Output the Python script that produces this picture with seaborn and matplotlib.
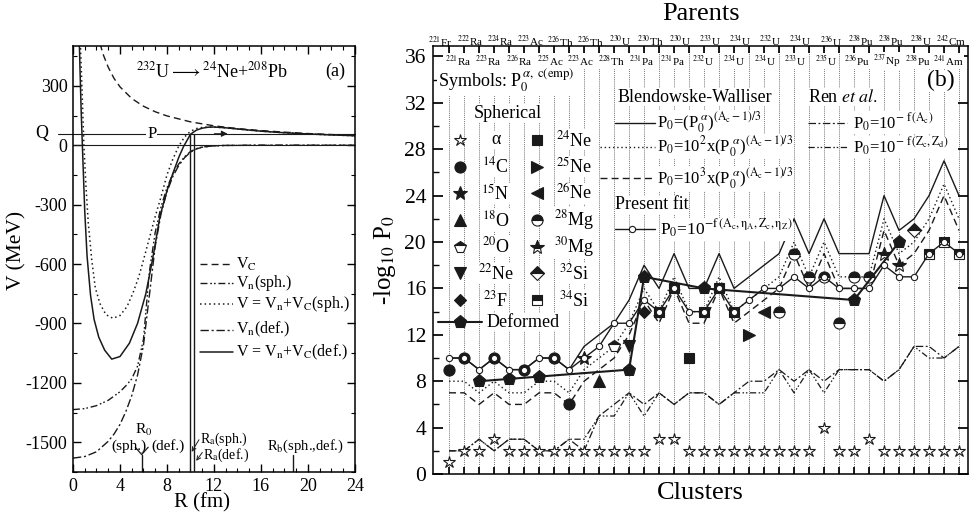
import re
import numpy as np
import matplotlib
matplotlib.use('Agg')
import matplotlib.pyplot as plt
import seaborn as sns

# ════════════════════════════════════════════════════════════════════
#  DATA
# ════════════════════════════════════════════════════════════════════

# ─── panel (a): potentials for 232U -> 24Ne + 208Pb ─────────────────
Q_VALUE = 58.0
R_VC = [2.3, 2.6, 3.0, 3.5, 4.0, 5.0, 6.0, 7.0, 8.0, 10.0, 12.0, 14.0, 16.0, 18.0, 20.0, 22.0, 24.0]
V_VC = [513, 454, 394, 337, 295, 236, 197, 169, 148, 118, 98, 84, 74, 66, 59, 54, 49]

R_VN_SPH = [0, 1, 2, 3, 4, 4.5, 5, 5.5, 6, 6.5, 7, 7.5, 8, 8.5, 9, 9.5, 10, 10.5, 11, 12, 13, 16, 24]
V_VN_SPH = [-1335, -1330, -1315, -1288, -1245, -1215, -1180, -1115, -980, -640, -440, -310,
            -215, -145, -95, -58, -32, -17, -9, -3, -1, 0, 0]

R_V_SPH = [0.6, 0.7, 0.8, 0.93, 1.1, 1.3, 1.6, 1.9, 2.3, 2.8, 3.4, 4.0, 4.6, 5.1, 5.6, 6.0, 6.5,
           7.0, 7.5, 8.0, 8.5, 9.0, 9.5, 10.0, 10.5, 11.0, 11.5, 12.0, 13, 14, 16, 18, 20, 22, 24]
V_V_SPH = [560, 400, 230, 0, -200, -390, -580, -720, -800, -855, -874, -860, -815, -747, -665,
           -580, -470, -360, -260, -150, -70, -5, 42, 70, 84, 90, 92, 92, 88, 82, 71, 63, 57, 52, 48]

R_VN_DEF = [0, 1, 2, 3, 3.5, 4, 4.5, 5, 5.5, 6, 6.5, 7, 7.5, 8, 8.5, 9, 9.5, 10, 10.5, 11, 12, 13, 16, 24]
V_VN_DEF = [-1580, -1572, -1548, -1495, -1458, -1410, -1345, -1265, -1160, -1010, -760, -510,
            -345, -235, -158, -103, -63, -35, -19, -10, -3, -1, 0, 0]

R_V_DEF = [0.5, 0.6, 0.7, 0.8, 1.0, 1.2, 1.5, 1.8, 2.2, 2.7, 3.3, 4.0, 4.8, 5.5, 6.2, 6.7, 7.0,
           7.4, 8.0, 8.5, 9.0, 9.4, 10.0, 10.5, 11.0, 11.5, 12.0, 13, 14, 16, 18, 20, 22, 24]
V_V_DEF = [620, 380, 170, 0, -330, -560, -760, -880, -970, -1035, -1080, -1067, -1000, -899,
           -750, -600, -500, -360, -230, -143, -62, -8, 55, 76, 86, 91, 92, 88, 82, 71, 63, 57, 52, 48]

R0_MARK = 5.85
RA_SPH, RA_DEF = 9.93, 10.3
RB_MARK = 18.7

# ─── panel (b): -log10 P0 for each decay ────────────────────────────
PARENTS_TOP = ['221Fr', '222Ra', '224Ra', '223Ac', '226Th', '226Th', '230U', '230Th', '230U',
               '233U', '234U', '232U', '234U', '236U', '238Pu', '238Pu', '238U', '242Cm']
PARENTS_LOW = ['221Ra', '223Ra', '226Ra', '225Ac', '223Ac', '228Th', '231Pa', '231Pa', '232U',
               '234U', '234U', '233U', '235U', '236Pu', '237Np', '238Pu', '241Am']

BW_SOLID  = [10, 10, 9, 10, 9, 9, 10, 10, 9, 11, 12, 13, 15, 18, 16, 19, 16, 16, 19, 16, 17, 18,
             19, 22, 19, 22, 19, 19, 19, 24, 21, 22, 24, 27, 24]
BW_DOTTED = [8, 8, 7, 8, 7, 7, 8, 8, 7, 9, 10, 11, 13, 16, 14, 17, 14, 14, 17, 14, 15, 16,
             17, 20, 17, 20, 17, 17, 17, 22, 19, 20, 22, 25, 22]
BW_DASHED = [7, 7, 6, 7, 6, 6, 7, 7, 6, 8, 9, 10, 12, 15, 13, 16, 13, 13, 16, 13, 14, 15,
             16, 19, 16, 19, 16, 16, 16, 21, 18, 19, 21, 24, 21]
REN_AC    = [2, 2, 3, 2, 3, 3, 2, 2, 3, 2, 5, 6, 7, 6, 7, 6, 7, 7, 6, 7, 8, 8,
             9, 8, 9, 8, 9, 9, 9, 8, 9, 11, 11, 10, 11]
REN_ZCZD  = [2, 2, 3, 2, 3, 3, 2, 2, 3, 3, 5, 5, 7, 5, 7, 6, 7, 7, 6, 7, 7, 7,
             9, 7, 9, 7, 9, 9, 9, 8, 9, 11, 10, 10, 11]
PRESENT   = [10, 10, 9, 10, 9, 9, 10, 10, 9, 10, 11, 13, 13, 15, 14, 16, 14, 14, 16, 14, 15, 16,
             16, 17, 16, 17, 16, 16, 16, 18, 17, 17, 19, 20, 19]
ALPHA_EMP = [1, 2, 2, 3, 2, 2, 2, 2, 2, 2, 2, 2, 2, 2, 3, 3, 2, 2, 2, 2, 2, 2,
             2, 2, 2, 4, 2, 2, 3, 2, 2, 2, 2, 2, 2]

EXP_POS = [0, 1, 3, 5, 7, 8, 9, 10, 11, 12, 13, 14, 15, 16, 17, 18, 19, 20, 21,
           22, 23, 24, 25, 26, 27, 28, 29, 30, 31, 32, 33, 34]
EXP_VAL = [9, 10, 10, 9, 10, 6, 10, 8, 11, 11, 14, 14, 16, 10, 14, 16, 14, 12, 14,
           14, 19, 17, 17, 13, 17, 17, 19, 18, 21, 19, 20, 19]
EXP_CLUSTER = (['14C'] * 6 + ['15N', '18O', '20O', '22Ne', '23F'] + ['24Ne'] * 6 +
               ['25Ne', '26Ne'] + ['28Mg'] * 7 + ['30Mg', '30Mg', '32Si', '34Si', '34Si', '34Si'])

DEF_POS = [2, 4, 6, 12, 13, 17, 27, 30]
DEF_VAL = [8, 8.2, 8.4, 9, 17, 16, 15, 20]

N_DECAY = len(BW_SOLID)

# ════════════════════════════════════════════════════════════════════
#  STYLE
# ════════════════════════════════════════════════════════════════════
sns.set_theme(style='ticks')
plt.rcParams.update({
    'font.family': ['Liberation Serif', 'DejaVu Serif'],
    'mathtext.fontset': 'stix',
    'axes.unicode_minus': False,
    'axes.edgecolor': 'black',
    'axes.linewidth': 1.1,
    'axes.labelcolor': 'black',
    'text.color': 'black',
    'xtick.color': 'black',
    'ytick.color': 'black',
    'xtick.direction': 'in',
    'ytick.direction': 'in',
})

DOT = (0, (1, 2))
DASH = (0, (5, 3))
DASHDOT = (0, (6, 2, 1.5, 2))
DASHDOTDOT = (0, (5, 2, 1.2, 1.5, 1.2, 2))


def line(ax, x, y, ls='-', lw=1.0, z=2, **kw):
    sns.lineplot(x=x, y=y, ax=ax, color='k', linestyle=ls, linewidth=lw,
                 estimator=None, sort=False, zorder=z, **kw)


def mk(marker, ms, fill='full', fc='k'):
    return dict(marker=marker, markersize=ms, fillstyle=fill, markerfacecolor=fc,
                markerfacecoloralt='white', markeredgecolor='k', markeredgewidth=0.8)


MARK = {
    'alpha': mk('*', 9, fc='white'),
    '14C':   mk('o', 8),
    '15N':   mk('*', 10),
    '18O':   mk('^', 8),
    '20O':   mk('p', 8.5, fill='top'),
    '22Ne':  mk('v', 8),
    '23F':   mk('D', 6.5),
    '24Ne':  mk('s', 7),
    '25Ne':  mk('>', 8),
    '26Ne':  mk('<', 8),
    '28Mg':  mk('o', 8, fill='top'),
    '30Mg':  mk('*', 10, fill='top'),
    '32Si':  mk('D', 7, fill='top'),
    '34Si':  mk('s', 7, fill='top'),
    'def':   mk('p', 9.5),
}

fig = plt.figure(figsize=(9.69, 5.18), dpi=100)
ax1 = fig.add_axes([0.0753, 0.0888, 0.291, 0.822])
ax2 = fig.add_axes([0.4469, 0.0849, 0.5521, 0.8263])

# ─── panel (a) ───────────────────────────────────────────────────────
line(ax1, R_VC, V_VC, DASH, 1.0)
line(ax1, R_VN_SPH, V_VN_SPH, DASHDOTDOT, 1.0)
line(ax1, R_V_SPH, V_V_SPH, DOT, 1.1)
line(ax1, R_VN_DEF, V_VN_DEF, DASHDOT, 1.0)
line(ax1, R_V_DEF, V_V_DEF, '-', 1.1)

ax1.set_xlim(0, 24)
ax1.set_ylim(-1650, 500)
ax1.axhline(0, color='k', lw=0.8, zorder=1)
ax1.plot([-0.053, 1], [Q_VALUE, Q_VALUE], color='k', lw=0.8,
         transform=ax1.get_yaxis_transform(), clip_on=False, zorder=1)
ax1.annotate('', xy=(13.4, Q_VALUE), xytext=(11.8, Q_VALUE),
             arrowprops=dict(arrowstyle='-|>', color='k', lw=0.8, mutation_scale=9))
ax1.text(6.7, Q_VALUE, 'P', ha='center', va='center', fontsize=12,
         bbox=dict(fc='white', ec='none', pad=0.5), zorder=3)
ax1.text(-0.11, Q_VALUE, 'Q', transform=ax1.get_yaxis_transform(), ha='center',
         va='center', fontsize=13)

ax1.vlines([RA_SPH, RA_DEF], -1650, Q_VALUE, color='k', lw=1.0, zorder=3)
ax1.plot([R0_MARK, R0_MARK], [-1650, -1562], color='k', lw=1.0)
ax1.plot([R0_MARK - 0.55, R0_MARK, R0_MARK + 0.55], [-1525, -1562, -1525], color='k', lw=0.9)
ax1.plot([RB_MARK, RB_MARK], [-1650, -1562], color='k', lw=1.0)

ax1.text(11.8, 372, r'$^{232}$U$\longrightarrow$$^{24}$Ne+$^{208}$Pb', ha='center',
         va='center', fontsize=13)
ax1.text(22.3, 372, '(a)', ha='center', va='center', fontsize=13)

leg_a = [(DASH, 1.0, r'V$_{\rm C}$', -600),
         (DASHDOTDOT, 1.0, r'V$_{\rm n}$(sph.)', -697),
         (DOT, 1.1, r'V = V$_{\rm n}$+V$_{\rm C}$(sph.)', -801),
         (DASHDOT, 1.0, r'V$_{\rm n}$(def.)', -932),
         ('-', 1.1, r'V = V$_{\rm n}$+V$_{\rm C}$(def.)', -1045)]
for ls, lw, lab, yy in leg_a:
    ax1.plot([10.8, 13.6], [yy, yy], color='k', ls=ls, lw=lw)
    ax1.text(13.85, yy, lab, va='center', ha='left', fontsize=11.5)

ax1.text(6.0, -1440, r'R$_0$', ha='center', va='center', fontsize=11)
ax1.text(4.75, -1520, '(sph.)', ha='center', va='center', fontsize=11)
ax1.text(8.1, -1520, '(def.)', ha='center', va='center', fontsize=11)
ax1.text(10.85, -1487, r'R$_{\rm a}$(sph.)', ha='left', va='center', fontsize=10)
ax1.text(11.1, -1567, r'R$_{\rm a}$(def.)', ha='left', va='center', fontsize=10)
ax1.text(16.5, -1522, r'R$_{\rm b}$(sph.,def.)', ha='left', va='center', fontsize=10.5)
ax1.annotate('', xy=(RA_SPH + 0.05, -1560), xytext=(10.85, -1475),
             arrowprops=dict(arrowstyle='->', color='k', lw=0.7, mutation_scale=7))
ax1.annotate('', xy=(RA_DEF + 0.05, -1605), xytext=(11.15, -1540),
             arrowprops=dict(arrowstyle='->', color='k', lw=0.7, mutation_scale=7))

ax1.set_xticks(range(0, 25, 4))
ax1.set_xticks(range(0, 25, 1), minor=True)
ax1.set_yticks([-1500, -1200, -900, -600, -300, 0, 300])
ax1.set_yticks(np.arange(-1650, 501, 150), minor=True)
ax1.tick_params(which='both', top=True, right=True, labelsize=13, pad=4)
ax1.tick_params(which='major', length=6, width=1.0)
ax1.tick_params(which='minor', length=3, width=0.8)
ax1.set_xlabel('R (fm)', fontsize=15)
ax1.set_ylabel('V (MeV)', fontsize=15.5)
ax1.xaxis.set_label_coords(0.457, -0.05)
ax1.yaxis.set_label_coords(-0.165, 0.52)

# ─── panel (b) ───────────────────────────────────────────────────────
idx = np.arange(N_DECAY)
for i in idx:
    ax2.axvline(i, color='0.3', lw=0.6, ls=(0, (1, 1.3)), zorder=0.5)

line(ax2, idx, REN_AC, DASHDOT, 0.9)
line(ax2, idx, REN_ZCZD, DASHDOTDOT, 0.9)
line(ax2, idx, BW_SOLID, '-', 1.0)
line(ax2, idx, BW_DOTTED, DOT, 1.0)
line(ax2, idx, BW_DASHED, DASH, 1.0)

ax2.plot(idx, ALPHA_EMP, ls='none', zorder=4, **MARK['alpha'])
exp_pos = np.array(EXP_POS)
exp_val = np.array(EXP_VAL)
exp_cl = np.array(EXP_CLUSTER)
for cl in dict.fromkeys(EXP_CLUSTER):
    sel = exp_cl == cl
    ax2.plot(exp_pos[sel], exp_val[sel], ls='none', zorder=4, **MARK[cl])

line(ax2, DEF_POS, DEF_VAL, '-', 1.5, z=5, marker='p', markersize=9.5,
     markerfacecolor='k', markeredgecolor='k')
line(ax2, idx, PRESENT, '-', 1.0, z=6, marker='o', markersize=4.5,
     markerfacecolor='white', markeredgecolor='k', markeredgewidth=0.8)

ax2.set_xlim(-1.07, 34.6)
ax2.set_ylim(0, 36.9)

# parent labels (two rows)
def iso(s):
    m = re.match(r'(\d+)(\D+)', s)
    return r'$^{%s}$%s' % (m.group(1), m.group(2))

for x, s in zip(np.linspace(-0.6, 33.45, len(PARENTS_TOP)), PARENTS_TOP):
    ax2.text(x, 37.3, iso(s), ha='center', va='center', fontsize=8, clip_on=False)
for x, s in zip(np.linspace(0.6, 33.3, len(PARENTS_LOW)), PARENTS_LOW):
    ax2.text(x, 35.6, iso(s), ha='center', va='center', fontsize=8, zorder=7,
             bbox=dict(fc='white', ec='none', pad=0.2))

WB = dict(fc='white', ec='none', pad=0.4)
# symbols legend
ax2.text(-0.75, 33.9, r'Symbols: P$_0^{\,\alpha,\ \mathrm{c(emp)}}$', ha='left', va='center',
         fontsize=13, zorder=7, bbox=WB)
ax2.text(3.9, 31.1, 'Spherical', ha='center', va='center', fontsize=13, zorder=7, bbox=WB)
col1 = [('alpha', 'α'), ('14C', r'$^{14}$C'), ('15N', r'$^{15}$N'), ('18O', r'$^{18}$O'),
        ('20O', r'$^{20}$O'), ('22Ne', r'$^{22}$Ne'), ('23F', r'$^{23}$F')]
col2 = [('24Ne', r'$^{24}$Ne'), ('25Ne', r'$^{25}$Ne'), ('26Ne', r'$^{26}$Ne'),
        ('28Mg', r'$^{28}$Mg'), ('30Mg', r'$^{30}$Mg'), ('32Si', r'$^{32}$Si'),
        ('34Si', r'$^{34}$Si')]
rows = [28.8, 26.5, 24.2, 21.9, 19.6, 17.3, 15.0]
for (k1, l1), (k2, l2), yy in zip(col1, col2, rows):
    ax2.plot([0.73], [yy], ls='none', zorder=7, **MARK[k1])
    ax2.text(3.1, yy, l1, ha='center', va='center', fontsize=13, zorder=7, bbox=WB)
    ax2.plot([5.85], [yy], ls='none', zorder=7, **MARK[k2])
    ax2.text(8.35, yy, l2, ha='center', va='center', fontsize=13, zorder=7, bbox=WB)
ax2.plot([-0.75, 2.2], [13.1, 13.1], color='k', lw=1.5, zorder=7)
ax2.plot([0.73], [13.1], ls='none', zorder=7, **MARK['def'])
ax2.text(2.5, 13.1, 'Deformed', ha='left', va='center', fontsize=13, zorder=7, bbox=WB)

# Blendowske-Walliser / present fit legend
ax2.text(11.2, 32.5, 'Blendowske-Walliser', ha='left', va='center', fontsize=13,
         zorder=7, bbox=WB)
bw_rows = [('-', 11.07, 30.3, r'P$_0$=(P$_0^{\ \alpha}$)$^{\mathrm{(A_c-1)/3}}$'),
           (DOT, 10.07, 28.2, r'P$_0$=10$^2$x(P$_0^{\ \alpha}$)$^{\mathrm{(A_c-1)/3}}$'),
           (DASH, 10.07, 25.5, r'P$_0$=10$^3$x(P$_0^{\ \alpha}$)$^{\mathrm{(A_c-1)/3}}$')]
for ls, x0, yy, lab in bw_rows:
    ax2.plot([x0, 13.73], [yy, yy], color='k', ls=ls, lw=1.0, zorder=7)
    ax2.text(13.85, yy, lab, ha='left', va='center', fontsize=12, zorder=7,
             bbox=dict(fc='white', ec='none', pad=0.1))
ax2.text(11.07, 23.2, 'Present fit', ha='left', va='center', fontsize=13, zorder=7, bbox=WB)
ax2.plot([11.07, 13.73], [21.1, 21.1], color='k', lw=1.0, zorder=7)
ax2.plot([12.2], [21.1], ls='none', marker='o', ms=4.5, mfc='white', mec='k', mew=0.8, zorder=8)
ax2.text(14.07, 21.1, r'P$_0$=10$^{\mathrm{-f\,(A_c,\eta_A,Z_c,\eta_Z)}}$', ha='left',
         va='center', fontsize=12.5, zorder=7, bbox=WB)

# Ren et al. legend
ax2.text(23.9, 32.5, r'Ren $\mathit{et\ al.}$', ha='left', va='center', fontsize=13,
         zorder=7, bbox=WB)
ax2.plot([23.93, 26.53], [30.3, 30.3], color='k', ls=DASHDOT, lw=0.9, zorder=7)
ax2.text(26.9, 30.3, r'P$_0$=10$^{\mathrm{-\ f\,(A_c)}}$', ha='left', va='center',
         fontsize=12, zorder=7, bbox=dict(fc='white', ec='none', pad=0.1))
ax2.plot([23.93, 26.53], [28.2, 28.2], color='k', ls=DASHDOTDOT, lw=0.9, zorder=7)
ax2.text(26.9, 28.2, r'P$_0$=10$^{\mathrm{-\ f\,(Z_c,Z_d)}}$', ha='left', va='center',
         fontsize=12, zorder=7, bbox=dict(fc='white', ec='none', pad=0.1))

ax2.text(32.8, 33.9, '(b)', ha='center', va='center', fontsize=17, zorder=7,
         bbox=dict(fc='white', ec='none', pad=0.1))

ax2.set_xticks(idx)
ax2.set_yticks(range(0, 37, 4))
ax2.set_yticks(range(0, 37, 2), minor=True)
ax2.tick_params(axis='x', which='major', length=5, top=True, labelbottom=False)
ax2.tick_params(axis='y', which='major', length=7, right=True, labelsize=15.5, pad=5)
ax2.tick_params(axis='y', which='minor', length=4, right=False)
ax2.set_xlabel('Clusters', fontsize=19)
ax2.xaxis.set_label_coords(0.5, -0.019)
ax2.set_ylabel(r'-log$_{10}$ P$_0$', fontsize=18)
ax2.yaxis.set_label_coords(-0.065, 0.5)
ax2.text(0.5, 1.075, 'Parents', transform=ax2.transAxes, ha='center', va='center',
         fontsize=19)

fig.savefig('out.png', dpi=100)
